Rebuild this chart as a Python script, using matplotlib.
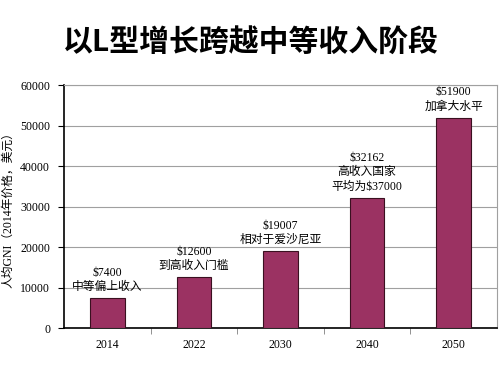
import matplotlib.pyplot as plt

years = ['2014', '2022', '2030', '2040', '2050']
gni = [7400, 12600, 19007, 32162, 51900]
notes = ['$7400\n中等偏上收入',
         '$12600\n到高收入门槛',
         '$19007\n相对于爱沙尼亚',
         '$32162\n高收入国家\n平均为$37000',
         '$51900\n加拿大水平']
yticks = [0, 10000, 20000, 30000, 40000, 50000, 60000]

serif = ['Liberation Serif', 'Noto Sans CJK SC']

fig = plt.figure(figsize=(5, 3.75), dpi=100)
ax = fig.add_axes([0.128, 0.125, 0.866, 0.648])

x = list(range(len(years)))
ax.bar(x, gni, width=0.4, color='#9b3262', edgecolor='#3a1020', linewidth=0.8, zorder=3)

for xi, v, t in zip(x, gni, notes):
    ax.text(xi, v + 1300, t, ha='center', va='bottom', fontsize=8.5,
            family=serif, linespacing=1.25, zorder=4)

ax.set_ylim(0, 60000)
ax.set_xlim(-0.5, len(years) - 0.5)
ax.set_yticks(yticks)
ax.set_yticklabels([str(v) for v in yticks], family=serif, fontsize=8.5)
ax.set_xticks(x)
ax.set_xticklabels(years, family=serif, fontsize=8.5)
ax.tick_params(axis='x', length=0, pad=8)
ax.set_xticks([i + 0.5 for i in x[:-1]], minor=True)
ax.tick_params(axis='x', which='minor', length=4, direction='out', color='#808080')
ax.tick_params(axis='y', length=4, direction='out', pad=6)
ax.grid(axis='y', color='#a0a0a0', linewidth=0.8, zorder=0)
ax.spines['top'].set_color('#a0a0a0')
ax.spines['right'].set_color('#a0a0a0')
ax.spines['left'].set_linewidth(1.2)
ax.spines['bottom'].set_linewidth(1.2)

ax.set_ylabel('人均GNI（2014年价格，美元）', family=serif, fontsize=8.5)
ax.yaxis.set_label_coords(-0.115, 0.5)

fig.text(0.502, 0.888, '以L型增长跨越中等收入阶段', ha='center', va='center',
         fontsize=21.5, fontweight='bold', family=['Noto Sans CJK SC', 'DejaVu Sans'])

fig.savefig('out.png', dpi=100)
